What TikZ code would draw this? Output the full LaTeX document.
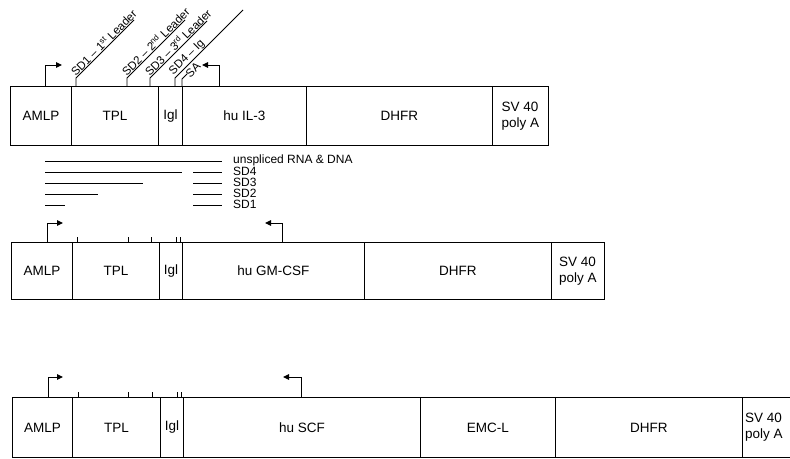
\documentclass[tikz,border=0pt]{standalone}
\usepackage{fontspec}
\setmainfont{Liberation Sans}
\usetikzlibrary{arrows.meta}
\begin{document}
\begin{tikzpicture}[x=1pt,y=-1pt,
  seg/.style={draw, line width=0.9pt, anchor=north west, inner sep=0pt, font=\fontsize{13.5}{15.5}\selectfont, align=center},
  prom/.style={line width=1pt, -{Triangle[length=6pt,width=5.5pt]}},
  lead/.style={line width=0.9pt},
  diag/.style={rotate=45, anchor=south west, inner sep=0.6pt, font=\fontsize{11.5}{13}\selectfont},
  legline/.style={line width=1pt},
  legtxt/.style={anchor=west, inner sep=0pt, font=\fontsize{12}{13}\selectfont},
  tick/.style={line width=0.8pt}]
\useasboundingbox (0,0) rectangle (790,458);

% ---------- row 1 ----------
\node[seg, minimum width=61pt, minimum height=59pt] (a1) at (10,86) {AMLP};
\node[seg, minimum width=87pt, minimum height=59pt] (t1) at (71,86) {TPL};
\node[seg, minimum width=24pt, minimum height=59pt] (i1) at (158,86) {Igl};
\node[seg, minimum width=124pt, minimum height=59pt] (h1) at (182,86) {hu IL-3};
\node[seg, minimum width=186pt, minimum height=59pt] (d1) at (306,86) {DHFR};
\node[seg, minimum width=56pt, minimum height=59pt, align=left] (s1) at (492,86) {SV 40\\poly A};

\coordinate (p1) at (45,86);
\draw[prom] (p1) |- (62,65);
\coordinate (q1) at (219,86);
\draw[prom] (q1) |- (202,65);

\coordinate (L1) at (76,86);
\draw[lead] (L1) -- ++(0,-8) coordinate (L1b) -- ++(58,-58);
\node[diag] (n1) at (L1b) {SD1 -- 1\textsuperscript{st} Leader};
\coordinate (L2) at (127,86);
\draw[lead] (L2) -- ++(0,-8) coordinate (L2b) -- ++(58,-58);
\node[diag] (n2) at (L2b) {SD2 -- 2\textsuperscript{nd} Leader};
\coordinate (L3) at (150,86);
\draw[lead] (L3) -- ++(0,-8) coordinate (L3b) -- ++(57,-57);
\node[diag] (n3) at (L3b) {SD3 -- 3\textsuperscript{rd} Leader};
\coordinate (L4) at (175,86);
\draw[lead] (L4) -- ++(0,-8) coordinate (L4b) -- ++(68,-68);
\node[diag] (n4) at (L4b) {SD4 -- Ig};
\coordinate (L5) at (182,86);
\draw[lead] (L5) -- ++(0,-7) coordinate (L5b) -- ++(5,-5);
\node[diag, anchor=west] (n5) at (187,76) {SA};

% ---------- legend ----------
\draw[legline] (45,161) -- (222,161);
\node[legtxt] (g0) at (233,160) {unspliced RNA \& DNA};
\draw[legline] (45,172) -- (182,172) (193,172) -- (222,172);
\node[legtxt] (g4) at (233,171) {SD4};
\draw[legline] (45,183) -- (143,183) (193,183) -- (222,183);
\node[legtxt] (g3) at (233,182) {SD3};
\draw[legline] (45,194) -- (98,194) (193,194) -- (222,194);
\node[legtxt] (g2) at (233,193) {SD2};
\draw[legline] (45,205) -- (65,205) (193,205) -- (222,205);
\node[legtxt] (g1) at (233,204) {SD1};

% ---------- row 2 ----------
\node[seg, minimum width=61pt, minimum height=57pt] (a2) at (11,242) {AMLP};
\node[seg, minimum width=87pt, minimum height=57pt] (t2) at (72,242) {TPL};
\node[seg, minimum width=23pt, minimum height=57pt] (i2) at (159,242) {Igl};
\node[seg, minimum width=182pt, minimum height=57pt] (h2) at (182,242) {hu GM-CSF};
\node[seg, minimum width=187pt, minimum height=57pt] (d2) at (364,242) {DHFR};
\node[seg, minimum width=53pt, minimum height=57pt, align=left] (s2) at (551,242) {SV 40\\poly A};
\foreach \x in {77,128,151,176,180} \draw[tick] (\x,242) -- (\x,237);
\coordinate (p2) at (47,242);
\draw[prom] (p2) |- (63,223);
\coordinate (q2) at (282,242);
\draw[prom] (q2) |- (265,223);

% ---------- row 3 ----------
\node[seg, minimum width=60pt, minimum height=60pt] (a3) at (12,397) {AMLP};
\node[seg, minimum width=88pt, minimum height=60pt] (t3) at (72,397) {TPL};
\node[seg, minimum width=23pt, minimum height=60pt] (i3) at (160,397) {Igl};
\node[seg, minimum width=237pt, minimum height=60pt] (h3) at (183,397) {hu SCF};
\node[seg, minimum width=135pt, minimum height=60pt] (e3) at (420,397) {EMC-L};
\node[seg, minimum width=187pt, minimum height=60pt] (d3) at (555,397) {DHFR};
\node[seg, minimum width=60pt, minimum height=60pt] (s3) at (742,397) {};
\node[anchor=west, inner sep=0pt, align=left, font=\fontsize{13.5}{15.5}\selectfont] (s3t) at (745,427) {SV 40\\poly A};
\foreach \x in {78,128,152,177,181} \draw[tick] (\x,397) -- (\x,392);
\coordinate (p3) at (48,397);
\draw[prom] (p3) |- (63,377);
\coordinate (q3) at (301,397);
\draw[prom] (q3) |- (283,377);
\end{tikzpicture}
\end{document}
